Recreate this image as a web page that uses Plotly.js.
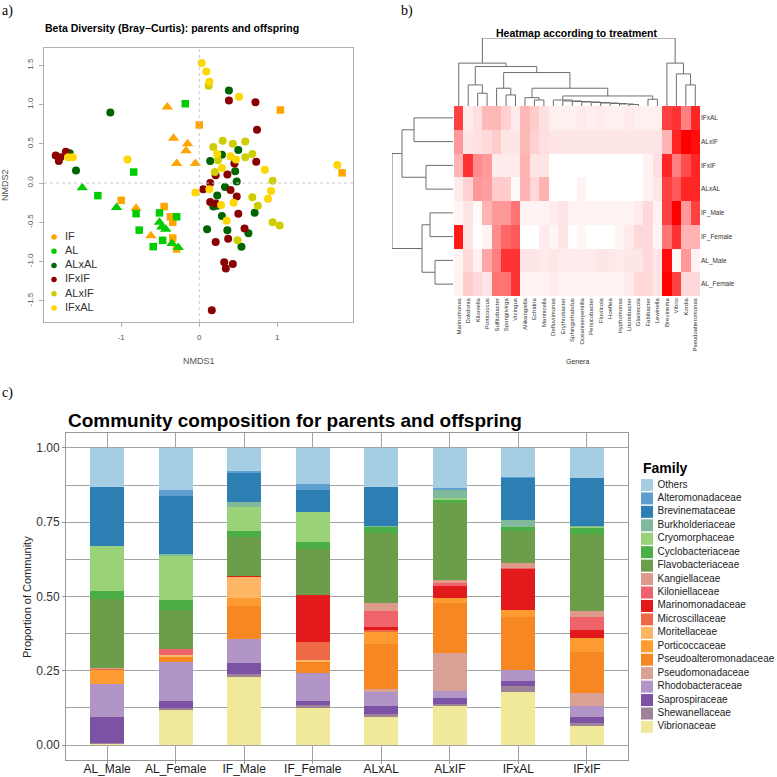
<!DOCTYPE html>
<html>
<head>
<meta charset="utf-8">
<script src="https://cdn.plot.ly/plotly-3.0.1.min.js"></script>
<style>
  html, body { margin: 0; padding: 0; background: #ffffff; }
  #chart { width: 777px; height: 777px; }
</style>
</head>
<body>
<div id="chart"></div>
<script>
// ---------- a) NMDS ordination (Bray-Curtis) ----------
const ifTriX = [-0.41, -0.33, -0.15, -0.17, -0.29, -0.05, -0.81, -0.62];
const ifTriY = [0.97, 0.57, 0.50, 0.41, 0.25, 0.25, -0.32, -0.67];
const ifSqX = [0.00, 1.04, 1.83, -1.00, -0.45, -0.37, -0.34, -0.34, -0.29];
const ifSqY = [0.74, 0.93, 0.13, -0.22, -0.30, -0.43, -0.50, -0.70, -0.84];
const alTriX = [-1.50, -1.06, -0.51, -0.48, -0.43, -0.35, -0.27];
const alTriY = [-0.06, -0.31, -0.50, -0.56, -0.59, -0.77, -0.82];
const alSqX = [-0.18, -0.84, -1.30, -0.81, -0.77, -0.51, -0.29, -0.47, -0.59];
const alSqY = [1.01, 0.14, -0.16, -0.39, -0.60, -0.38, -0.43, -0.73, -0.81];
const alxalX = [-1.14, 0.38, -1.66, -1.58, 0.29, 0.50, 0.14, 0.46, 0.48, 0.33, 0.23, 0.18, 0.23, 0.29, 0.71, 0.10, 0.36, 0.63, 0.54];
const alxalY = [0.90, 1.18, 0.38, 0.16, 0.36, 0.42, 0.28, 0.15, 0.02, -0.05, -0.16, -0.30, -0.29, -0.42, -0.38, -0.59, -0.60, -0.64, -0.81];
const ifxifX = [-1.71, -1.84, -1.80, -1.78, 0.38, 0.72, 0.74, 0.73, 0.45, 0.36, 0.21, 0.14, 0.05, 0.40, 0.48, 0.14, 0.21, 0.50, 0.58, 0.37, 0.21, 0.32, 0.43, 0.34, 0.16];
const ifxifY = [0.40, 0.35, 0.28, 0.33, 1.05, 1.03, 0.68, 0.27, 0.25, 0.11, 0.10, 0.00, -0.08, -0.09, -0.17, -0.24, -0.26, -0.39, -0.58, -0.71, -0.75, -1.01, -1.03, -1.09, -1.62];
const alxifX = [0.12, 0.18, 0.30, 0.43, 0.59, 0.24, 0.59, 0.68, 0.20, 0.94, 0.68, 0.75, 0.94, 1.03, 0.49];
const alxifY = [1.24, 0.46, 0.54, 0.50, 0.53, 0.29, 0.33, 0.37, 0.14, 0.03, -0.18, -0.29, -0.50, -0.54, -0.73];
const ifxalX = [0.03, 0.09, 0.13, 0.51, -0.92, -1.68, -1.62, 0.23, 0.40, 0.47, 0.29, 0.84, 1.77, -0.05, 0.13, 0.92, 0.88, 0.28, 0.44, 0.35];
const ifxalY = [1.53, 1.42, 1.29, 1.10, 0.30, 0.33, 0.33, 0.37, 0.34, 0.30, 0.19, 0.17, 0.23, -0.12, -0.08, -0.10, -0.20, -0.28, -0.25, -0.48];

const groupNames = ['IF', 'AL', 'ALxAL', 'IFxIF', 'ALxIF', 'IFxAL'];
const groupColors = ['#FFA500', '#00CD00', '#006400', '#8B0000', '#CDCD00', '#FFD700'];

// ---------- b) heatmap of genera by treatment ----------
const genera = ['Marinomonas', 'Dokdonia', 'Kiloniella', 'Porticoccus', 'Sulfitobacter', 'Spongiivirga',
  'Vicingus', 'Aliikangiella', 'Echidna', 'Marinicella', 'Defluviimonas', 'Erythrobacter',
  'Sphingorhabdus', 'Oceaniserpentilla', 'Persicobacter', 'Fluviicola', 'Hoeflea', 'Hyphomonas',
  'Litoreibacter', 'Glaciecola', 'Fabibacter', 'Lewinella', 'Brevinema', 'Vibrio', 'Kordia',
  'Pseudoalteromonas'];
const treatments = ['IFxAL', 'ALxIF', 'IFxIF', 'ALxAL', 'IF_Male', 'IF_Female', 'AL_Male', 'AL_Female'];
const hmIFxAL = [0.75, 0.08, 0.12, 0.28, 0.28, 0.18, 0.08, 0.28, 0.20, 0.12, 0.06, 0.06, 0.06, 0.08, 0.06, 0.08, 0.06, 0.06, 0.08, 0.06, 0.06, 0.06, 0.75, 0.80, 0.50, 0.85];
const hmALxIF = [0.40, 0.10, 0.12, 0.15, 0.20, 0.10, 0.10, 0.28, 0.18, 0.12, 0.10, 0.10, 0.10, 0.10, 0.10, 0.10, 0.10, 0.10, 0.10, 0.10, 0.10, 0.10, 0.30, 0.85, 1.00, 0.95];
const hmIFxIF = [0.30, 0.80, 0.45, 0.40, 0.08, 0.08, 0.08, 0.30, 0.10, 0.10, 0.00, 0.00, 0.00, 0.00, 0.00, 0.00, 0.00, 0.00, 0.00, 0.00, 0.05, 0.12, 0.85, 0.50, 0.70, 0.85];
const hmALxAL = [0.08, 0.18, 0.40, 0.38, 0.20, 0.20, 0.02, 0.30, 0.15, 0.30, 0.00, 0.00, 0.00, 0.05, 0.00, 0.00, 0.00, 0.00, 0.00, 0.00, 0.05, 0.10, 0.75, 0.65, 0.85, 0.85];
const hmIFMale = [0.04, 0.10, 0.02, 0.30, 0.40, 0.40, 0.55, 0.05, 0.05, 0.05, 0.08, 0.10, 0.05, 0.05, 0.05, 0.05, 0.05, 0.05, 0.05, 0.08, 0.15, 0.05, 0.75, 1.00, 0.40, 0.75];
const hmIFFemale = [0.90, 0.10, 0.00, 0.04, 0.45, 0.60, 0.65, 0.00, 0.00, 0.08, 0.04, 0.10, 0.00, 0.04, 0.00, 0.00, 0.00, 0.04, 0.08, 0.15, 0.15, 0.04, 0.55, 0.80, 0.30, 0.30];
const hmALMale = [0.04, 0.15, 0.05, 0.35, 0.50, 0.80, 0.80, 0.10, 0.10, 0.08, 0.10, 0.08, 0.08, 0.08, 0.08, 0.10, 0.10, 0.08, 0.10, 0.10, 0.15, 0.10, 0.95, 0.03, 0.40, 0.05];
const hmALFemale = [0.05, 0.20, 0.15, 0.10, 0.55, 0.55, 0.80, 0.05, 0.05, 0.05, 0.08, 0.05, 0.05, 0.05, 0.05, 0.05, 0.05, 0.05, 0.08, 0.15, 0.15, 0.10, 1.00, 0.75, 0.15, 0.15];

// cluster trees: a leaf is an index, a merge is [left, right, height]
const generaTree = [
  [0, [[1, [2, 3, 12.7], 21], [[4, [5, 6, 11], 17.7], [[7, [8, 9, 6], 8.3],
    [[10, [11, [12, [13, [14, [15, [16, [17, [18, 19, 1.5], 2], 2.5], 3], 3.5], 4], 4.5], 5], 6], [20, 21, 6.7], 10],
    17.7], 33.3], 39.3], 42.7],
  [22, [23, [24, 25, 21], 32], 42.7],
  67.7];
const treatmentTree = [[[0, 1, 39], [2, 3, 27], 51], [[4, 5, 23], [6, 7, 18], 31], 61];

// ---------- c) community composition ----------
const samples = ['AL_Male', 'AL_Female', 'IF_Male', 'IF_Female', 'ALxAL', 'ALxIF', 'IFxAL', 'IFxIF'];
const families = ['Others', 'Alteromonadaceae', 'Brevinemataceae', 'Burkholderiaceae', 'Cryomorphaceae',
  'Cyclobacteriaceae', 'Flavobacteriaceae', 'Kangiellaceae', 'Kiloniellaceae', 'Marinomonadaceae',
  'Microscillaceae', 'Moritellaceae', 'Porticoccaceae', 'Pseudoalteromonadaceae', 'Pseudomonadaceae',
  'Rhodobacteraceae', 'Saprospiraceae', 'Shewanellaceae', 'Vibrionaceae'];
const familyColors = ['#a6cee3', '#5e9fcf', '#2d7fb3', '#80b99c', '#99d279', '#4cae47', '#6c9d4b',
  '#dd9a8b', '#ef646b', '#e31a1c', '#ee6a47', '#fdb664', '#fe9b31', '#f68723', '#d9a196',
  '#b295c7', '#7c52a5', '#9e8299', '#f0e99a'];
// proportions per sample, in the order of `families`
const AL_Male   = [0.130, 0.003, 0.196, 0.000, 0.154, 0.024, 0.232, 0.004, 0.000, 0.000, 0.004, 0.000, 0.048, 0.000, 0.000, 0.109, 0.088, 0.003, 0.005];
const AL_Female = [0.141, 0.022, 0.193, 0.009, 0.147, 0.032, 0.132, 0.000, 0.020, 0.000, 0.000, 0.008, 0.000, 0.016, 0.000, 0.131, 0.025, 0.005, 0.119];
const IF_Male   = [0.079, 0.006, 0.098, 0.016, 0.080, 0.021, 0.130, 0.000, 0.000, 0.004, 0.000, 0.070, 0.028, 0.112, 0.000, 0.081, 0.037, 0.009, 0.229];
const IF_Female = [0.121, 0.022, 0.074, 0.000, 0.101, 0.022, 0.156, 0.000, 0.000, 0.156, 0.061, 0.006, 0.000, 0.039, 0.000, 0.095, 0.013, 0.008, 0.126];
const ALxAL     = [0.130, 0.000, 0.132, 0.005, 0.000, 0.019, 0.237, 0.027, 0.053, 0.009, 0.008, 0.000, 0.040, 0.150, 0.010, 0.048, 0.028, 0.009, 0.095];
const ALxIF     = [0.134, 0.008, 0.000, 0.028, 0.005, 0.012, 0.258, 0.011, 0.008, 0.042, 0.000, 0.000, 0.015, 0.169, 0.129, 0.024, 0.019, 0.006, 0.132];
const IFxAL     = [0.098, 0.004, 0.142, 0.022, 0.000, 0.015, 0.106, 0.017, 0.005, 0.137, 0.000, 0.000, 0.022, 0.179, 0.000, 0.037, 0.017, 0.020, 0.179];
const IFxIF     = [0.103, 0.000, 0.159, 0.004, 0.004, 0.020, 0.259, 0.021, 0.041, 0.030, 0.000, 0.000, 0.046, 0.137, 0.044, 0.037, 0.021, 0.009, 0.065];

// ---------- build ----------
const W = 777, H = 777;
const px = v => v / W;           // horizontal pixel -> paper
const py = v => 1 - v / H;       // vertical pixel (from top) -> paper
const SANS = 'Liberation Sans, Arial, Helvetica, sans-serif';
const SERIF = 'Liberation Serif, Times New Roman, serif';

const traces = [];

// a) scatter points
function pts(x, y, color, symbol, size) {
  traces.push({ type: 'scatter', mode: 'markers', x: x, y: y, xaxis: 'x', yaxis: 'y',
    marker: { color: color, symbol: symbol, size: size, line: { width: 0 } }, hoverinfo: 'skip' });
}
pts(ifTriX, ifTriY, groupColors[0], 'triangle-up', 10);
pts(ifSqX, ifSqY, groupColors[0], 'square', 7.5);
pts(alTriX, alTriY, groupColors[1], 'triangle-up', 10);
pts(alSqX, alSqY, groupColors[1], 'square', 7.5);
pts(alxalX, alxalY, groupColors[2], 'circle', 8);
pts(ifxifX, ifxifY, groupColors[3], 'circle', 8);
pts(alxifX, alxifY, groupColors[4], 'circle', 8);
pts(ifxalX, ifxalY, groupColors[5], 'circle', 8);

// a) key
const keyRows = groupNames.map((_, i) => i);
traces.push({ type: 'scatter', mode: 'markers', xaxis: 'x6', yaxis: 'y6',
  x: keyRows.map(() => 4), y: keyRows, marker: { color: groupColors, size: 5.5, symbol: 'circle' }, hoverinfo: 'skip' });
traces.push({ type: 'scatter', mode: 'text', xaxis: 'x6', yaxis: 'y6', cliponaxis: false,
  x: keyRows.map(() => 15), y: keyRows, text: groupNames, textposition: 'middle right',
  textfont: { family: SANS, size: 11, color: '#333333' }, hoverinfo: 'skip' });

// b) heatmap
const hmRows = [hmIFxAL, hmALxIF, hmIFxIF, hmALxAL, hmIFMale, hmIFFemale, hmALMale, hmALFemale];
traces.push({ type: 'heatmap', xaxis: 'x2', yaxis: 'y2', z: hmRows,
  x: genera.map((_, i) => i), y: treatments.map((_, i) => i),
  colorscale: [[0, '#ffffff'], [1, '#ff0000']], zmin: 0, zmax: 1, showscale: false, hoverinfo: 'skip' });

// b) dendrograms from the cluster trees
function dendro(tree) {
  const a = [], b = [];
  (function walk(node) {
    if (!Array.isArray(node)) return { pos: node, h: 0 };
    const l = walk(node[0]), r = walk(node[1]), hgt = node[2];
    a.push(l.pos, l.pos, r.pos, r.pos, null);
    b.push(l.h, hgt, hgt, r.h, null);
    return { pos: (l.pos + r.pos) / 2, h: hgt };
  })(tree);
  return { pos: a, hgt: b };
}
const colD = dendro(generaTree);
traces.push({ type: 'scatter', mode: 'lines', xaxis: 'x2', yaxis: 'y3', x: colD.pos, y: colD.hgt,
  line: { color: '#6e6e6e', width: 1 }, hoverinfo: 'skip', connectgaps: false });
const rowD = dendro(treatmentTree);
traces.push({ type: 'scatter', mode: 'lines', xaxis: 'x3', yaxis: 'y2', x: rowD.hgt, y: rowD.pos,
  line: { color: '#6e6e6e', width: 1 }, hoverinfo: 'skip', connectgaps: false });

// c) stacked bars: last family at the bottom of each bar
const sampleRows = [AL_Male, AL_Female, IF_Male, IF_Female, ALxAL, ALxIF, IFxAL, IFxIF];
for (let f = families.length - 1; f >= 0; f--) {
  traces.push({ type: 'bar', xaxis: 'x4', yaxis: 'y4', x: samples, y: sampleRows.map(r => r[f]),
    name: families[f], width: 0.5, marker: { color: familyColors[f], line: { width: 0 } }, hoverinfo: 'skip' });
}

// c) key
const famRows = families.map((_, i) => i);
traces.push({ type: 'scatter', mode: 'markers', xaxis: 'x5', yaxis: 'y5',
  x: famRows.map(() => 6), y: famRows, marker: { color: familyColors, size: 12, symbol: 'square', line: { width: 0 } }, hoverinfo: 'skip' });
traces.push({ type: 'scatter', mode: 'text', xaxis: 'x5', yaxis: 'y5', cliponaxis: false,
  x: famRows.map(() => 16.5), y: famRows, text: families, textposition: 'middle right',
  textfont: { family: SANS, size: 10, color: '#222222' }, hoverinfo: 'skip' });

const hidden = { visible: false, showgrid: false, zeroline: false, fixedrange: true };
const gridC = '#a3a3a3';

const layout = {
  width: W, height: H,
  margin: { l: 0, r: 0, t: 0, b: 0 },
  paper_bgcolor: '#ffffff', plot_bgcolor: 'rgba(0,0,0,0)',
  showlegend: false, hovermode: false, barmode: 'stack',
  font: { family: SANS, color: '#333333' },

  // a)
  xaxis: { domain: [px(44), px(353)], range: [-1.99, 1.97], anchor: 'y',
    tickvals: [-1, 0, 1], ticktext: ['-1', '0', '1'], showgrid: false, zeroline: false,
    showline: true, mirror: true, linecolor: '#b0b0b0', linewidth: 1,
    ticks: 'outside', ticklen: 4, tickcolor: '#b0b0b0', ticklabelstandoff: 3,
    tickfont: { family: SANS, size: 8, color: '#555555' } },
  yaxis: { domain: [py(322), py(48)], range: [-1.77, 1.72], anchor: 'x',
    tickvals: [-1.5, -1, -0.5, 0, 0.5, 1, 1.5], ticktext: ['-1.5', '-1.0', '-0.5', '0.0', '0.5', '1.0', '1.5'],
    tickangle: -90, showgrid: false, zeroline: false,
    showline: true, mirror: true, linecolor: '#b0b0b0', linewidth: 1,
    ticks: 'outside', ticklen: 4, tickcolor: '#b0b0b0', ticklabelstandoff: 3,
    tickfont: { family: SANS, size: 8, color: '#555555' } },
  xaxis6: Object.assign({ domain: [px(50), px(150)], range: [0, 100], anchor: 'y6' }, hidden),
  yaxis6: Object.assign({ domain: [py(315), py(230)], range: [5.49, -0.493], anchor: 'x6' }, hidden),

  // b)
  xaxis2: { domain: [px(454), px(700)], range: [-0.5, 25.5], anchor: 'y2',
    tickvals: genera.map((_, i) => i), ticktext: genera, tickangle: -90,
    showgrid: false, zeroline: false, showline: false, ticks: '',
    tickfont: { family: SANS, size: 6, color: '#333333' } },
  yaxis2: { domain: [py(296), py(106)], range: [7.5, -0.5], anchor: 'x2', side: 'right',
    tickvals: treatments.map((_, i) => i), ticktext: treatments,
    showgrid: false, zeroline: false, showline: false, ticks: '',
    tickfont: { family: SANS, size: 6.5, color: '#333333' } },
  yaxis3: Object.assign({ domain: [py(106), py(38)], range: [0, 67.7], anchor: 'x2' }, hidden),
  xaxis3: Object.assign({ domain: [px(392), px(453)], range: [61, 0], anchor: 'y2' }, hidden),

  // c)
  xaxis4: { domain: [px(66), px(628)], range: [-0.6, 7.6], anchor: 'y4', type: 'category',
    showgrid: true, gridcolor: gridC, gridwidth: 1, zeroline: false,
    showline: true, mirror: true, linecolor: '#999999', linewidth: 1,
    ticks: 'outside', ticklen: 3, tickcolor: '#999999', ticklabelstandoff: -5,
    tickfont: { family: SANS, size: 12, color: '#1a1a1a' } },
  yaxis4: { domain: [py(760), py(433)], range: [-0.05, 1.05], anchor: 'x4',
    tickvals: [0, 0.25, 0.5, 0.75, 1], ticktext: ['0.00', '0.25', '0.50', '0.75', '1.00'],
    showgrid: true, gridcolor: gridC, gridwidth: 1, zeroline: false,
    minor: { tickvals: [0.125, 0.375, 0.625, 0.875], showgrid: true, gridcolor: gridC, gridwidth: 1, ticks: '' },
    showline: true, mirror: true, linecolor: '#999999', linewidth: 1,
    ticks: 'outside', ticklen: 3, tickcolor: '#999999',
    tickfont: { family: SANS, size: 12, color: '#333333' } },
  xaxis5: Object.assign({ domain: [px(641), 1], range: [0, 136], anchor: 'y5' }, hidden),
  yaxis5: Object.assign({ domain: [py(735), py(478)], range: [18.6, -0.52], anchor: 'x5' }, hidden),

  shapes: [
    { type: 'line', xref: 'x', yref: 'y domain', x0: 0, x1: 0, y0: 0, y1: 1,
      line: { color: '#c8c8c8', width: 1, dash: 'dot' } },
    { type: 'line', xref: 'x domain', yref: 'y', x0: 0, x1: 1, y0: 0, y1: 0,
      line: { color: '#c8c8c8', width: 1, dash: 'dot' } }
  ],

  annotations: [
    { text: 'a)', x: px(0), y: py(11), xref: 'paper', yref: 'paper', xanchor: 'left', yanchor: 'middle',
      showarrow: false, font: { family: SERIF, size: 14, color: '#000000' } },
    { text: 'b)', x: px(399), y: py(11), xref: 'paper', yref: 'paper', xanchor: 'left', yanchor: 'middle',
      showarrow: false, font: { family: SERIF, size: 14, color: '#000000' } },
    { text: 'c)', x: px(0), y: py(393), xref: 'paper', yref: 'paper', xanchor: 'left', yanchor: 'middle',
      showarrow: false, font: { family: SERIF, size: 14, color: '#000000' } },
    { text: '<b>Beta Diversity (Bray\u2212Curtis): parents and offspring</b>', x: px(43), y: py(28),
      xref: 'paper', yref: 'paper', xanchor: 'left', yanchor: 'middle', showarrow: false,
      font: { family: SANS, size: 10.5, color: '#000000' } },
    { text: 'NMDS1', x: px(199), y: py(361), xref: 'paper', yref: 'paper', xanchor: 'center', yanchor: 'middle',
      showarrow: false, font: { family: SANS, size: 9, color: '#555555' } },
    { text: 'NMDS2', x: px(5), y: py(185), xref: 'paper', yref: 'paper', xanchor: 'center', yanchor: 'middle',
      textangle: -90, showarrow: false, font: { family: SANS, size: 9, color: '#555555' } },
    { text: '<b>Heatmap according to treatment</b>', x: px(577), y: py(33), xref: 'paper', yref: 'paper',
      xanchor: 'center', yanchor: 'middle', showarrow: false, font: { family: SANS, size: 10.5, color: '#000000' } },
    { text: 'Genera', x: px(577), y: py(361), xref: 'paper', yref: 'paper', xanchor: 'center', yanchor: 'middle',
      showarrow: false, font: { family: SANS, size: 7, color: '#333333' } },
    { text: '<b>Community composition for parents and offspring</b>', x: px(66), y: py(420), xref: 'paper', yref: 'paper',
      xanchor: 'left', yanchor: 'middle', showarrow: false, font: { family: SANS, size: 19, color: '#000000' } },
    { text: 'Proportion of Community', x: px(27), y: py(597), xref: 'paper', yref: 'paper', xanchor: 'center', yanchor: 'middle',
      textangle: -90, showarrow: false, font: { family: SANS, size: 11, color: '#222222' } },
    { text: '<b>Family</b>', x: px(641), y: py(468), xref: 'paper', yref: 'paper', xanchor: 'left', yanchor: 'middle',
      showarrow: false, font: { family: SANS, size: 14, color: '#000000' } }
  ]
};

Plotly.newPlot('chart', traces, layout, { staticPlot: true, displayModeBar: false });
</script>
</body>
</html>
